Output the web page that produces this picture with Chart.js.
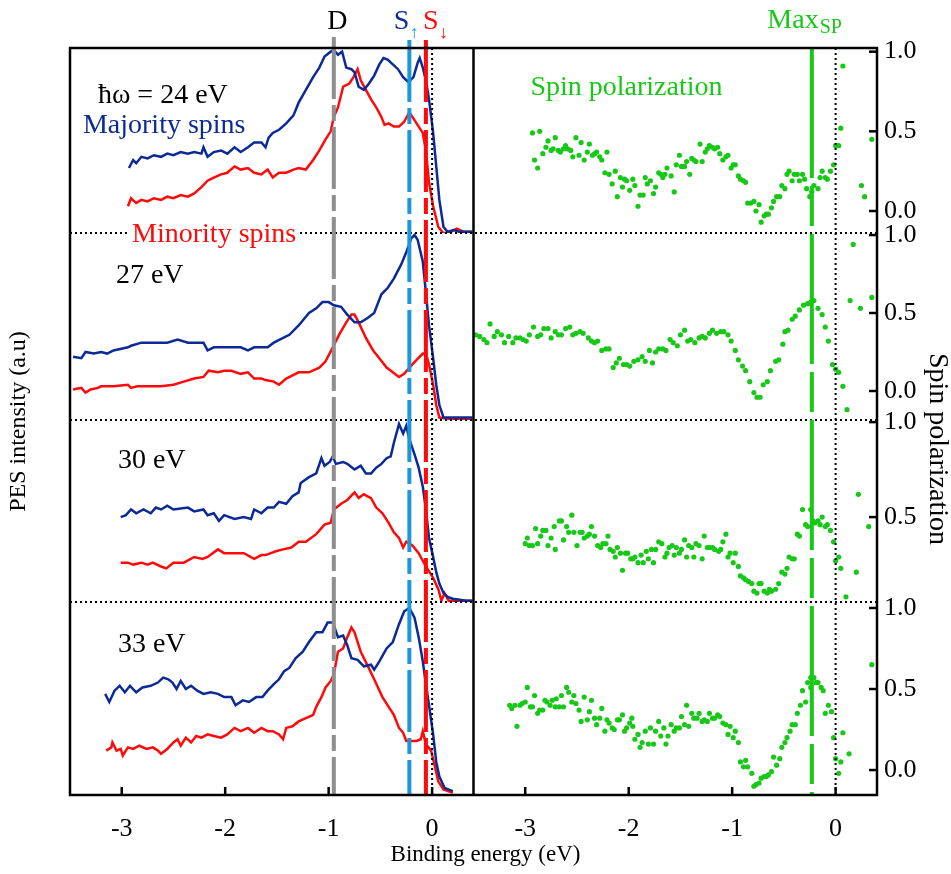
<!DOCTYPE html>
<html lang="en">
<head>
<meta charset="UTF-8">
<title>Spin-resolved PES</title>
<script src="https://cdn.jsdelivr.net/npm/chart.js@4.4.1/dist/chart.umd.min.js"></script>
<style>
  html, body { margin: 0; padding: 0; background: #fff; }
  canvas { display: block; }
</style>
</head>
<body>
<canvas id="chart" width="951" height="874"></canvas>
<script>
// ---- data: [binding energy (eV), value] ----
const maj24 = [[-2.93,0.27],[-2.89,0.32],[-2.86,0.30],[-2.81,0.34],[-2.75,0.33],[-2.69,0.35],[-2.62,0.34],[-2.56,0.36],[-2.50,0.35],[-2.43,0.37],[-2.36,0.36],[-2.30,0.37],[-2.23,0.36],[-2.21,0.40],[-2.17,0.34],[-2.11,0.37],[-2.04,0.38],[-1.98,0.36],[-1.91,0.40],[-1.85,0.37],[-1.78,0.40],[-1.72,0.43],[-1.65,0.43],[-1.61,0.40],[-1.58,0.46],[-1.54,0.49],[-1.48,0.51],[-1.41,0.55],[-1.34,0.60],[-1.29,0.68],[-1.22,0.76],[-1.15,0.84],[-1.09,0.90],[-1.04,0.97],[-0.98,1.00],[-0.95,1.01],[-0.91,0.98],[-0.87,1.00],[-0.83,0.90],[-0.78,0.89],[-0.75,0.87],[-0.71,0.78],[-0.66,0.76],[-0.61,0.80],[-0.56,0.85],[-0.51,0.92],[-0.47,0.96],[-0.43,0.95],[-0.38,0.92],[-0.33,0.89],[-0.28,0.84],[-0.23,0.81],[-0.18,0.84],[-0.14,0.93],[-0.12,0.96],[-0.09,0.90],[-0.06,0.82],[-0.03,0.70],[0.01,0.49],[0.04,0.28],[0.07,0.07],[0.11,-0.10],[0.15,-0.13],[0.21,-0.12],[0.26,-0.13],[0.32,-0.13],[0.39,-0.13]];
const min24 = [[-2.94,0.03],[-2.91,0.08],[-2.86,0.05],[-2.81,0.07],[-2.75,0.06],[-2.69,0.08],[-2.62,0.07],[-2.56,0.09],[-2.50,0.08],[-2.43,0.10],[-2.36,0.09],[-2.30,0.11],[-2.23,0.15],[-2.17,0.19],[-2.11,0.21],[-2.04,0.23],[-1.98,0.24],[-1.91,0.28],[-1.85,0.26],[-1.78,0.27],[-1.72,0.24],[-1.65,0.23],[-1.59,0.26],[-1.54,0.21],[-1.48,0.24],[-1.41,0.24],[-1.34,0.26],[-1.29,0.27],[-1.22,0.26],[-1.15,0.32],[-1.09,0.38],[-1.03,0.45],[-0.98,0.50],[-0.95,0.59],[-0.91,0.65],[-0.86,0.78],[-0.80,0.80],[-0.76,0.84],[-0.72,0.89],[-0.69,0.82],[-0.64,0.76],[-0.59,0.70],[-0.54,0.65],[-0.49,0.59],[-0.46,0.54],[-0.42,0.55],[-0.37,0.53],[-0.32,0.53],[-0.27,0.56],[-0.22,0.62],[-0.17,0.57],[-0.13,0.53],[-0.09,0.49],[-0.06,0.38],[-0.03,0.18],[0.01,0.03],[0.06,-0.10],[0.11,-0.14],[0.18,-0.13],[0.24,-0.11],[0.30,-0.13],[0.39,-0.13]];

const maj27 = [[-3.47,0.22],[-3.39,0.21],[-3.35,0.25],[-3.27,0.24],[-3.20,0.25],[-3.14,0.24],[-3.08,0.26],[-2.94,0.28],[-2.91,0.29],[-2.81,0.31],[-2.69,0.31],[-2.56,0.31],[-2.46,0.33],[-2.36,0.31],[-2.30,0.31],[-2.21,0.31],[-2.17,0.26],[-2.11,0.28],[-1.98,0.28],[-1.85,0.28],[-1.78,0.26],[-1.72,0.28],[-1.59,0.28],[-1.53,0.31],[-1.44,0.34],[-1.38,0.36],[-1.29,0.42],[-1.19,0.50],[-1.12,0.53],[-1.06,0.57],[-1.00,0.57],[-0.95,0.55],[-0.88,0.54],[-0.82,0.49],[-0.75,0.44],[-0.69,0.44],[-0.62,0.47],[-0.56,0.50],[-0.49,0.62],[-0.43,0.66],[-0.37,0.72],[-0.30,0.81],[-0.25,0.89],[-0.20,0.98],[-0.17,1.00],[-0.14,0.97],[-0.09,0.83],[-0.06,0.63],[-0.03,0.42],[0.01,0.21],[0.04,0.04],[0.07,-0.09],[0.11,-0.17],[0.23,-0.17],[0.39,-0.17]];
const min27 = [[-3.47,0.01],[-3.39,0.02],[-3.35,-0.01],[-3.30,0.01],[-3.23,0.02],[-3.20,0.03],[-3.08,0.03],[-2.94,0.04],[-2.91,0.02],[-2.85,0.03],[-2.75,0.03],[-2.62,0.03],[-2.50,0.04],[-2.40,0.06],[-2.30,0.08],[-2.21,0.09],[-2.16,0.13],[-2.07,0.12],[-2.01,0.13],[-1.94,0.13],[-1.85,0.11],[-1.78,0.12],[-1.72,0.08],[-1.65,0.08],[-1.61,0.07],[-1.53,0.06],[-1.48,0.04],[-1.41,0.08],[-1.29,0.12],[-1.19,0.12],[-1.09,0.15],[-1.03,0.19],[-0.96,0.28],[-0.90,0.36],[-0.83,0.44],[-0.78,0.49],[-0.75,0.49],[-0.71,0.44],[-0.64,0.34],[-0.57,0.26],[-0.51,0.21],[-0.44,0.15],[-0.38,0.12],[-0.32,0.09],[-0.27,0.11],[-0.22,0.15],[-0.15,0.20],[-0.09,0.24],[-0.06,0.24],[-0.03,0.17],[0.01,0.04],[0.04,-0.09],[0.07,-0.17],[0.18,-0.18],[0.39,-0.18]];

const maj30 = [[-3.01,0.50],[-2.96,0.51],[-2.91,0.54],[-2.86,0.52],[-2.79,0.54],[-2.72,0.52],[-2.67,0.55],[-2.62,0.54],[-2.56,0.56],[-2.50,0.54],[-2.36,0.55],[-2.30,0.53],[-2.21,0.54],[-2.17,0.51],[-2.11,0.52],[-2.06,0.48],[-2.01,0.51],[-1.91,0.49],[-1.82,0.50],[-1.75,0.49],[-1.72,0.54],[-1.65,0.52],[-1.59,0.55],[-1.53,0.55],[-1.48,0.58],[-1.41,0.57],[-1.35,0.61],[-1.29,0.63],[-1.27,0.68],[-1.19,0.71],[-1.12,0.73],[-1.07,0.81],[-1.04,0.77],[-0.99,0.79],[-0.96,0.82],[-0.93,0.78],[-0.86,0.79],[-0.82,0.78],[-0.75,0.75],[-0.69,0.77],[-0.64,0.73],[-0.59,0.73],[-0.54,0.76],[-0.49,0.78],[-0.44,0.81],[-0.40,0.82],[-0.37,0.89],[-0.32,0.99],[-0.28,0.94],[-0.25,0.98],[-0.22,0.91],[-0.17,0.83],[-0.13,0.76],[-0.09,0.66],[-0.06,0.54],[-0.03,0.39],[0.01,0.29],[0.04,0.21],[0.07,0.15],[0.11,0.10],[0.15,0.08],[0.20,0.07],[0.33,0.06],[0.39,0.06]];
const min30 = [[-3.01,0.26],[-2.94,0.26],[-2.89,0.25],[-2.81,0.26],[-2.75,0.25],[-2.70,0.26],[-2.62,0.24],[-2.57,0.23],[-2.50,0.26],[-2.40,0.26],[-2.30,0.29],[-2.22,0.28],[-2.17,0.29],[-2.07,0.33],[-2.01,0.31],[-1.91,0.31],[-1.82,0.31],[-1.72,0.28],[-1.65,0.30],[-1.61,0.30],[-1.51,0.32],[-1.44,0.33],[-1.36,0.34],[-1.29,0.37],[-1.22,0.37],[-1.12,0.41],[-1.04,0.46],[-0.98,0.47],[-0.95,0.54],[-0.88,0.57],[-0.82,0.59],[-0.75,0.63],[-0.71,0.60],[-0.66,0.62],[-0.59,0.60],[-0.54,0.55],[-0.48,0.52],[-0.42,0.47],[-0.37,0.42],[-0.32,0.39],[-0.28,0.34],[-0.25,0.37],[-0.19,0.35],[-0.13,0.31],[-0.06,0.24],[0.01,0.18],[0.06,0.12],[0.09,0.06],[0.12,0.10],[0.16,0.06],[0.23,0.06],[0.39,0.06]];

const maj33 = [[-3.16,0.47],[-3.12,0.42],[-3.07,0.49],[-3.02,0.52],[-2.97,0.48],[-2.92,0.52],[-2.86,0.48],[-2.80,0.51],[-2.72,0.52],[-2.65,0.54],[-2.60,0.57],[-2.55,0.56],[-2.51,0.54],[-2.47,0.50],[-2.43,0.55],[-2.38,0.50],[-2.33,0.52],[-2.27,0.49],[-2.21,0.47],[-2.14,0.48],[-2.07,0.47],[-2.01,0.45],[-1.94,0.45],[-1.90,0.40],[-1.83,0.43],[-1.77,0.42],[-1.70,0.45],[-1.64,0.45],[-1.59,0.49],[-1.53,0.53],[-1.48,0.56],[-1.43,0.61],[-1.38,0.63],[-1.32,0.69],[-1.25,0.73],[-1.19,0.79],[-1.12,0.85],[-1.06,0.85],[-1.01,0.91],[-0.96,0.91],[-0.91,0.82],[-0.86,0.83],[-0.82,0.77],[-0.78,0.69],[-0.72,0.68],[-0.66,0.64],[-0.59,0.65],[-0.56,0.62],[-0.51,0.67],[-0.44,0.75],[-0.38,0.79],[-0.32,0.90],[-0.27,0.98],[-0.22,1.00],[-0.17,0.94],[-0.13,0.82],[-0.09,0.67],[-0.06,0.53],[-0.03,0.40],[0.01,0.22],[0.04,0.05],[0.07,-0.04],[0.12,-0.11],[0.20,-0.13]];
const min33 = [[-3.15,0.12],[-3.10,0.14],[-3.09,0.17],[-3.05,0.12],[-3.01,0.13],[-2.99,0.09],[-2.94,0.14],[-2.89,0.13],[-2.83,0.15],[-2.76,0.13],[-2.70,0.14],[-2.65,0.12],[-2.62,0.10],[-2.56,0.13],[-2.50,0.17],[-2.46,0.19],[-2.43,0.15],[-2.38,0.20],[-2.33,0.17],[-2.28,0.21],[-2.23,0.20],[-2.17,0.22],[-2.11,0.21],[-2.04,0.20],[-1.98,0.22],[-1.91,0.26],[-1.85,0.24],[-1.78,0.26],[-1.72,0.23],[-1.65,0.26],[-1.59,0.24],[-1.54,0.24],[-1.48,0.22],[-1.44,0.19],[-1.41,0.26],[-1.35,0.27],[-1.29,0.30],[-1.22,0.32],[-1.15,0.34],[-1.12,0.39],[-1.07,0.45],[-1.03,0.51],[-0.98,0.55],[-0.95,0.59],[-0.91,0.73],[-0.86,0.75],[-0.82,0.82],[-0.78,0.88],[-0.75,0.85],[-0.69,0.73],[-0.62,0.64],[-0.56,0.56],[-0.48,0.45],[-0.42,0.39],[-0.37,0.34],[-0.32,0.26],[-0.28,0.23],[-0.25,0.18],[-0.20,0.18],[-0.15,0.18],[-0.11,0.19],[-0.09,0.24],[-0.06,0.16],[-0.01,0.12],[0.02,0.04],[0.06,-0.07],[0.11,-0.12],[0.20,-0.14]];

const sp24 = [[-2.93,0.49],[-2.91,0.32],[-2.88,0.27],[-2.86,0.50],[-2.83,0.36],[-2.80,0.40],[-2.78,0.44],[-2.75,0.38],[-2.73,0.39],[-2.71,0.46],[-2.68,0.38],[-2.66,0.37],[-2.63,0.39],[-2.61,0.41],[-2.59,0.39],[-2.56,0.38],[-2.54,0.34],[-2.51,0.46],[-2.48,0.35],[-2.46,0.43],[-2.43,0.32],[-2.40,0.37],[-2.38,0.42],[-2.35,0.35],[-2.33,0.36],[-2.31,0.37],[-2.28,0.34],[-2.26,0.32],[-2.23,0.24],[-2.21,0.37],[-2.19,0.23],[-2.16,0.17],[-2.13,0.25],[-2.11,0.09],[-2.08,0.21],[-2.06,0.15],[-2.04,0.20],[-2.02,0.19],[-1.99,0.13],[-1.96,0.20],[-1.94,0.16],[-1.91,0.03],[-1.89,0.10],[-1.86,0.10],[-1.84,0.21],[-1.82,0.17],[-1.79,0.19],[-1.76,0.11],[-1.74,0.15],[-1.71,0.24],[-1.69,0.23],[-1.67,0.21],[-1.65,0.23],[-1.63,0.27],[-1.59,0.22],[-1.56,0.12],[-1.54,0.29],[-1.51,0.35],[-1.49,0.28],[-1.46,0.28],[-1.44,0.31],[-1.41,0.23],[-1.39,0.33],[-1.37,0.32],[-1.35,0.31],[-1.31,0.42],[-1.29,0.31],[-1.26,0.37],[-1.24,0.39],[-1.22,0.41],[-1.19,0.40],[-1.17,0.39],[-1.14,0.40],[-1.12,0.36],[-1.09,0.32],[-1.06,0.34],[-1.04,0.35],[-1.01,0.27],[-0.99,0.29],[-0.97,0.29],[-0.94,0.22],[-0.92,0.20],[-0.89,0.19],[-0.87,0.18],[-0.85,0.05],[-0.82,0.05],[-0.79,0.06],[-0.77,0.00],[-0.74,0.04],[-0.72,-0.07],[-0.69,-0.03],[-0.67,-0.02],[-0.65,-0.02],[-0.62,0.02],[-0.60,0.06],[-0.57,0.09],[-0.54,0.09],[-0.52,0.16],[-0.49,0.14],[-0.47,0.23],[-0.45,0.25],[-0.42,0.19],[-0.40,0.23],[-0.37,0.23],[-0.35,0.19],[-0.32,0.23],[-0.30,0.20],[-0.28,0.14],[-0.25,0.09],[-0.23,0.12],[-0.21,0.16],[-0.17,0.14],[-0.15,0.21],[-0.13,0.25],[-0.10,0.21],[-0.08,0.20],[-0.05,0.25],[-0.02,0.29],[0.00,0.41],[0.03,0.41],[0.05,0.52],[0.07,0.91],[0.25,0.16],[0.28,0.09],[0.35,0.45]];
const sp27 = [[-3.48,0.36],[-3.44,0.35],[-3.40,0.33],[-3.37,0.31],[-3.34,0.43],[-3.30,0.35],[-3.27,0.38],[-3.23,0.36],[-3.20,0.31],[-3.16,0.35],[-3.12,0.31],[-3.09,0.34],[-3.05,0.34],[-3.02,0.33],[-2.99,0.32],[-2.96,0.36],[-2.92,0.41],[-2.88,0.35],[-2.85,0.36],[-2.82,0.40],[-2.78,0.40],[-2.75,0.34],[-2.71,0.38],[-2.68,0.36],[-2.65,0.36],[-2.61,0.40],[-2.57,0.41],[-2.54,0.36],[-2.51,0.37],[-2.47,0.38],[-2.44,0.37],[-2.39,0.34],[-2.36,0.32],[-2.33,0.31],[-2.30,0.32],[-2.26,0.26],[-2.22,0.27],[-2.19,0.27],[-2.15,0.15],[-2.12,0.18],[-2.09,0.21],[-2.05,0.17],[-2.02,0.17],[-1.99,0.16],[-1.95,0.19],[-1.91,0.20],[-1.87,0.22],[-1.84,0.19],[-1.80,0.26],[-1.77,0.18],[-1.74,0.25],[-1.71,0.27],[-1.67,0.27],[-1.64,0.26],[-1.60,0.33],[-1.57,0.31],[-1.53,0.29],[-1.50,0.36],[-1.46,0.39],[-1.43,0.32],[-1.40,0.33],[-1.36,0.31],[-1.32,0.34],[-1.29,0.35],[-1.26,0.34],[-1.22,0.37],[-1.19,0.39],[-1.15,0.37],[-1.11,0.38],[-1.08,0.38],[-1.04,0.36],[-1.01,0.32],[-0.97,0.26],[-0.94,0.20],[-0.90,0.16],[-0.87,0.13],[-0.83,0.06],[-0.79,-0.01],[-0.76,-0.04],[-0.73,-0.04],[-0.70,0.04],[-0.66,0.06],[-0.63,0.13],[-0.58,0.19],[-0.55,0.20],[-0.51,0.30],[-0.49,0.38],[-0.46,0.39],[-0.42,0.46],[-0.39,0.48],[-0.35,0.52],[-0.31,0.55],[-0.27,0.56],[-0.24,0.57],[-0.21,0.58],[-0.17,0.53],[-0.13,0.49],[-0.10,0.41],[-0.07,0.32],[-0.03,0.17],[0.00,0.14],[0.03,0.12],[0.07,0.03],[0.11,-0.12],[0.14,0.58],[0.17,0.94],[0.24,0.53],[0.35,0.60]];
const sp30 = [[-3.00,0.36],[-2.98,0.39],[-2.96,0.35],[-2.93,0.35],[-2.90,0.44],[-2.88,0.36],[-2.85,0.40],[-2.83,0.43],[-2.80,0.43],[-2.78,0.35],[-2.75,0.39],[-2.72,0.45],[-2.71,0.33],[-2.67,0.48],[-2.65,0.48],[-2.63,0.38],[-2.60,0.45],[-2.58,0.42],[-2.55,0.51],[-2.53,0.42],[-2.50,0.35],[-2.47,0.42],[-2.45,0.42],[-2.43,0.39],[-2.40,0.40],[-2.38,0.41],[-2.36,0.45],[-2.33,0.40],[-2.30,0.35],[-2.27,0.34],[-2.25,0.36],[-2.22,0.36],[-2.20,0.40],[-2.18,0.33],[-2.15,0.32],[-2.13,0.29],[-2.11,0.34],[-2.08,0.31],[-2.06,0.22],[-2.03,0.31],[-2.01,0.31],[-1.98,0.28],[-1.96,0.28],[-1.94,0.29],[-1.91,0.26],[-1.88,0.30],[-1.86,0.26],[-1.83,0.32],[-1.81,0.28],[-1.78,0.33],[-1.76,0.26],[-1.74,0.33],[-1.71,0.37],[-1.68,0.36],[-1.65,0.29],[-1.63,0.31],[-1.61,0.34],[-1.58,0.35],[-1.56,0.30],[-1.54,0.34],[-1.51,0.31],[-1.49,0.33],[-1.46,0.38],[-1.44,0.29],[-1.42,0.35],[-1.39,0.34],[-1.37,0.29],[-1.35,0.36],[-1.32,0.35],[-1.29,0.28],[-1.27,0.40],[-1.24,0.34],[-1.22,0.34],[-1.19,0.34],[-1.17,0.33],[-1.13,0.32],[-1.11,0.33],[-1.09,0.37],[-1.06,0.41],[-1.04,0.29],[-1.02,0.31],[-0.99,0.26],[-0.97,0.31],[-0.94,0.24],[-0.92,0.19],[-0.89,0.18],[-0.87,0.17],[-0.84,0.16],[-0.81,0.15],[-0.79,0.11],[-0.76,0.10],[-0.74,0.15],[-0.72,0.15],[-0.69,0.11],[-0.66,0.10],[-0.64,0.12],[-0.62,0.11],[-0.58,0.12],[-0.55,0.15],[-0.52,0.21],[-0.49,0.20],[-0.47,0.23],[-0.45,0.29],[-0.42,0.28],[-0.40,0.28],[-0.37,0.41],[-0.35,0.40],[-0.32,0.54],[-0.29,0.46],[-0.27,0.45],[-0.24,0.54],[-0.22,0.48],[-0.20,0.47],[-0.17,0.48],[-0.15,0.46],[-0.13,0.50],[-0.10,0.45],[-0.08,0.46],[-0.05,0.43],[-0.02,0.37],[0.00,0.27],[0.03,0.29],[0.05,0.23],[0.10,0.08],[0.20,0.21],[0.22,0.62],[0.32,0.45]];
const sp33 = [[-3.15,0.40],[-3.13,0.38],[-3.10,0.40],[-3.08,0.27],[-3.05,0.40],[-3.03,0.41],[-3.00,0.42],[-2.98,0.51],[-2.95,0.39],[-2.93,0.39],[-2.91,0.46],[-2.88,0.35],[-2.86,0.37],[-2.83,0.37],[-2.81,0.43],[-2.79,0.42],[-2.76,0.40],[-2.74,0.43],[-2.71,0.39],[-2.70,0.44],[-2.67,0.39],[-2.65,0.46],[-2.63,0.39],[-2.60,0.51],[-2.58,0.48],[-2.55,0.42],[-2.53,0.46],[-2.51,0.41],[-2.48,0.37],[-2.46,0.30],[-2.43,0.45],[-2.40,0.31],[-2.38,0.36],[-2.36,0.43],[-2.33,0.32],[-2.31,0.28],[-2.28,0.32],[-2.26,0.38],[-2.23,0.24],[-2.21,0.31],[-2.19,0.29],[-2.16,0.26],[-2.14,0.25],[-2.11,0.31],[-2.09,0.31],[-2.06,0.34],[-2.04,0.24],[-2.02,0.26],[-1.99,0.29],[-1.97,0.32],[-1.96,0.27],[-1.94,0.19],[-1.91,0.22],[-1.89,0.14],[-1.87,0.17],[-1.84,0.24],[-1.81,0.16],[-1.79,0.26],[-1.76,0.16],[-1.74,0.24],[-1.71,0.30],[-1.69,0.21],[-1.66,0.26],[-1.64,0.16],[-1.62,0.21],[-1.59,0.28],[-1.56,0.24],[-1.54,0.26],[-1.51,0.26],[-1.49,0.33],[-1.46,0.28],[-1.44,0.40],[-1.42,0.27],[-1.39,0.35],[-1.37,0.32],[-1.34,0.32],[-1.32,0.35],[-1.29,0.30],[-1.27,0.31],[-1.24,0.30],[-1.22,0.35],[-1.19,0.32],[-1.17,0.32],[-1.14,0.34],[-1.12,0.33],[-1.09,0.29],[-1.06,0.28],[-1.04,0.22],[-1.02,0.27],[-0.99,0.20],[-0.97,0.24],[-0.94,0.17],[-0.92,0.05],[-0.89,0.02],[-0.87,0.06],[-0.85,0.02],[-0.81,-0.02],[-0.79,-0.10],[-0.77,-0.09],[-0.74,-0.08],[-0.72,-0.05],[-0.69,-0.04],[-0.67,-0.04],[-0.65,-0.03],[-0.62,-0.01],[-0.60,0.08],[-0.57,0.03],[-0.54,0.07],[-0.52,0.14],[-0.49,0.17],[-0.47,0.20],[-0.44,0.24],[-0.42,0.28],[-0.39,0.28],[-0.37,0.35],[-0.34,0.40],[-0.32,0.49],[-0.29,0.42],[-0.27,0.54],[-0.24,0.57],[-0.24,0.51],[-0.21,0.57],[-0.19,0.54],[-0.17,0.54],[-0.14,0.51],[-0.12,0.49],[-0.10,0.35],[-0.07,0.40],[-0.04,0.36],[-0.02,0.20],[0.00,0.07],[0.03,-0.02],[0.05,0.05],[0.07,0.23],[0.13,0.10],[0.35,0.65]];

const photonEnergies = ['ħω = 24 eV', '27 eV', '30 eV', '33 eV'];
const majority = [maj24, maj27, maj30, maj33];
const minority = [min24, min27, min30, min33];
const spinPol = [sp24, sp27, sp30, sp33];
const xTickValues = [-3, -2, -1, 0];
const spTicks = [[0, 0.5, 1], [0, 0.5, 1], [0.5, 1], [0, 0.5, 1]];
const markers = { D: -0.95, up: -0.22, down: -0.06, maxSP: -0.23 };

// ---- layout / style ----
const SHIFT = 3.9;                       // right panel drawn on the same x scale, shifted
const panelMin = [-0.138, -0.186, 0.053, -0.154];
const panelMax = [1.023, 1.013, 1.011, 1.037];
const panelWeight = [185, 187, 182, 193];
const NAVY = '#0b2a95', RED = '#ff0a0a', GREEN = '#18c818', LIGHTBLUE = '#1d97d8', GREY = '#8e8e8e';
const SERIF = '"Liberation Serif", "Times New Roman", serif';

Chart.defaults.font.family = SERIF;
Chart.defaults.color = '#000';

const datasets = [];
for (let i = 0; i < 4; i++) {
  const yAxisID = 'p' + i;
  datasets.push({
    label: 'Majority ' + photonEnergies[i], yAxisID,
    data: majority[i].map(([e, v]) => ({ x: e, y: v })),
    borderColor: NAVY, borderWidth: 2.5, pointRadius: 0, tension: 0
  });
  datasets.push({
    label: 'Minority ' + photonEnergies[i], yAxisID,
    data: minority[i].map(([e, v]) => ({ x: e, y: v })),
    borderColor: RED, borderWidth: 2.5, pointRadius: 0, tension: 0
  });
  datasets.push({
    label: 'Spin polarization ' + photonEnergies[i], yAxisID,
    data: spinPol[i].map(([e, v]) => ({ x: e + SHIFT, y: v })),
    showLine: false, pointRadius: 2.6, pointBorderWidth: 0,
    pointBackgroundColor: GREEN, borderColor: GREEN
  });
}

const scales = {
  x: {
    type: 'linear', position: 'bottom', min: -3.5, max: 0.4 + SHIFT,
    grid: { display: false, drawTicks: false }, border: { display: false },
    afterBuildTicks: s => {
      s.ticks = xTickValues.concat(xTickValues.map(v => v + SHIFT)).map(v => ({ value: v }));
    },
    ticks: {
      autoSkip: false, maxRotation: 0, padding: 19, font: { size: 26 },
      callback: v => String(Math.round(v > 0.45 ? v - SHIFT : v) || 0)
    },
    afterFit: s => { s.height = 79; }
  },
  yL: {
    position: 'left', min: 0, max: 1,
    grid: { display: false, drawTicks: false }, border: { display: false },
    ticks: { display: false },
    title: { display: true, text: 'PES intensity (a.u)', font: { size: 24 }, padding: { top: 4 } },
    afterFit: s => { s.width = 70; }
  }
};
for (let i = 0; i < 4; i++) {
  scales['p' + i] = {
    position: 'right', stack: 'panels', stackWeight: panelWeight[i], weight: i + 1,
    min: panelMin[i], max: panelMax[i],
    grid: { display: false, drawTicks: false }, border: { display: false },
    afterBuildTicks: s => { s.ticks = spTicks[i].map(v => ({ value: v })); },
    ticks: { padding: 7, font: { size: 26 }, callback: v => v.toFixed(1) },
    afterFit: s => { s.width = 74; }
  };
}

const notes = [
  { text: photonEnergies[0], e: -3.23, p: 0, v: 0.68, color: '#000' },
  { text: 'Majority spins', e: -3.375, p: 0, v: 0.49, color: NAVY },
  { text: 'Minority spins', e: -2.90, p: 0, v: -0.195, color: RED, bg: true },
  { text: photonEnergies[1], e: -3.056, p: 1, v: 0.69, color: '#000' },
  { text: photonEnergies[2], e: -3.037, p: 2, v: 0.758, color: '#000' },
  { text: photonEnergies[3], e: -3.037, p: 3, v: 0.73, color: '#000' },
  { text: 'Spin polarization', e: -2.95 + SHIFT, p: 0, v: 0.73, color: GREEN }
];

const overlay = {
  id: 'overlay',
  afterDatasetsDraw(chart) {
    const { ctx, chartArea: a, scales: sc } = chart;
    const px = e => sc.x.getPixelForValue(e);
    const line = (x1, y1, x2, y2) => { ctx.beginPath(); ctx.moveTo(x1, y1); ctx.lineTo(x2, y2); ctx.stroke(); };
    ctx.save();

    // dotted separators and zero lines
    ctx.strokeStyle = '#000'; ctx.lineWidth = 2; ctx.setLineDash([2, 3]);
    for (let i = 1; i < 4; i++) line(a.left, sc['p' + i].top, a.right, sc['p' + i].top);
    line(px(0), a.top, px(0), a.bottom);
    line(px(SHIFT), a.top, px(SHIFT), a.bottom);

    // marker lines
    ctx.lineWidth = 4;
    const mk = [
      [markers.D, GREY, 11, [62, 6, 16, 6]],
      [markers.up, LIGHTBLUE, 8, [62, 6, 16, 6]],
      [markers.down, RED, 8, [62, 6, 16, 6]],
      [markers.maxSP + SHIFT, GREEN, 0, [130, 8, 40, 8]]
    ];
    for (const [e, c, over, dash] of mk) {
      ctx.strokeStyle = c; ctx.setLineDash(dash);
      line(px(e), a.top - over, px(e), a.bottom);
    }

    // frame, middle divider, inward ticks
    ctx.setLineDash([]); ctx.strokeStyle = '#000'; ctx.lineWidth = 2.5;
    ctx.strokeRect(a.left, a.top, a.right - a.left, a.bottom - a.top);
    line(px(0.4), a.top, px(0.4), a.bottom);
    for (const t of sc.x.ticks) line(px(t.value), a.bottom, px(t.value), a.bottom - 8);
    for (let i = 0; i < 4; i++) {
      const s = sc['p' + i];
      for (const t of s.ticks) line(a.right, s.getPixelForValue(t.value), a.right - 8, s.getPixelForValue(t.value));
    }

    // text labels
    ctx.textBaseline = 'alphabetic'; ctx.textAlign = 'left';
    ctx.font = '28px ' + SERIF;
    for (const n of notes) {
      const x = px(n.e), y = sc['p' + n.p].getPixelForValue(n.v);
      if (n.bg) {
        const w = ctx.measureText(n.text).width;
        ctx.fillStyle = '#fff'; ctx.fillRect(x - 3, y - 22, w + 6, 28);
      }
      ctx.fillStyle = n.color; ctx.fillText(n.text, x, y);
    }
    const topY = a.top - 19;
    ctx.fillStyle = '#000'; ctx.textAlign = 'center';
    ctx.fillText('D', px(-0.915), topY);
    ctx.textAlign = 'left';
    ctx.fillStyle = NAVY; ctx.fillText('S', px(-0.37), topY);
    ctx.fillStyle = RED; ctx.fillText('S', px(-0.087), topY);
    ctx.fillStyle = GREEN; ctx.fillText('Max', px(-0.66 + SHIFT), topY - 1);
    const maxW = ctx.measureText('Max').width;
    ctx.font = '18px ' + SERIF;
    ctx.fillStyle = LIGHTBLUE; ctx.fillText('↑', px(-0.37) + 16, topY + 9);
    ctx.fillStyle = RED; ctx.fillText('↓', px(-0.087) + 16, topY + 9);
    ctx.font = '20px ' + SERIF;
    ctx.fillStyle = GREEN; ctx.fillText('SP', px(-0.66 + SHIFT) + maxW + 1, topY + 4);

    // x axis title (slightly right of centre, as in the original)
    ctx.font = '23px ' + SERIF; ctx.fillStyle = '#000'; ctx.textAlign = 'center'; ctx.textBaseline = 'middle';
    ctx.fillText('Binding energy (eV)', (a.left + a.right) / 2 + 12, 855);

    // right axis title
    ctx.font = '28px ' + SERIF;
    ctx.translate(937, 449); ctx.rotate(Math.PI / 2);
    ctx.fillText('Spin polarization', 0, 0);
    ctx.restore();
  }
};

new Chart(document.getElementById('chart'), {
  type: 'line',
  data: { datasets },
  options: {
    responsive: false,
    animation: false,
    layout: { padding: { top: 48, right: 0, bottom: 0, left: 0 } },
    plugins: { legend: { display: false }, tooltip: { enabled: false } },
    scales
  },
  plugins: [overlay]
});
</script>
</body>
</html>
